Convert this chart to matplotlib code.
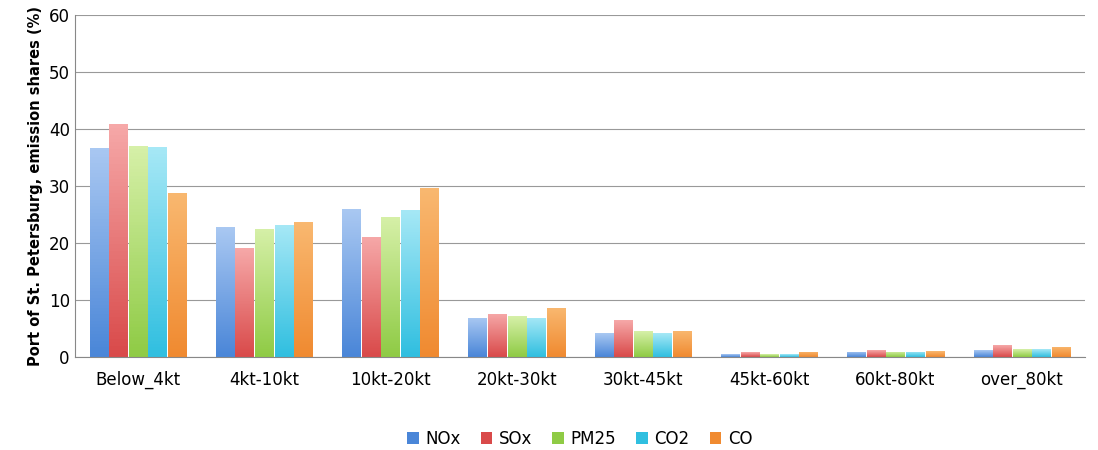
import numpy as np
import matplotlib
matplotlib.use("Agg")
import matplotlib.pyplot as plt
from matplotlib.colors import LinearSegmentedColormap

categories = ["Below_4kt", "4kt-10kt", "10kt-20kt", "20kt-30kt", "30kt-45kt",
              "45kt-60kt", "60kt-80kt", "over_80kt"]
nox = [36.7, 22.7, 25.9, 6.9, 4.1, 0.5, 0.9, 1.2]
sox = [40.8, 19.1, 21.1, 7.6, 6.4, 0.8, 1.2, 2.0]
pm25 = [37.0, 22.5, 24.6, 7.1, 4.5, 0.5, 0.9, 1.4]
co2 = [36.8, 23.2, 25.8, 6.9, 4.2, 0.5, 0.9, 1.3]
co = [28.8, 23.6, 29.6, 8.6, 4.6, 0.9, 1.0, 1.8]

series = [("NOx", nox, "#4a86d8", "#a9c8f2"),
          ("SOx", sox, "#d94a4a", "#f6a8a8"),
          ("PM25", pm25, "#8fcb45", "#d6f0a8"),
          ("CO2", co2, "#30bfe0", "#a6e8f6"),
          ("CO", co, "#f08a30", "#f9b870")]

fig, ax = plt.subplots(figsize=(10.98, 4.5), dpi=100)
fig.subplots_adjust(left=0.068, right=0.988, top=0.967, bottom=0.207)

x = np.arange(len(categories))
w = 0.155
for i, (name, vals, dark, light) in enumerate(series):
    bars = ax.bar(x + (i - 2) * w, vals, w * 0.92, color=dark, label=name, zorder=2)
    cmap = LinearSegmentedColormap.from_list(name, [dark, light])
    for b in bars:
        x0, y0 = b.get_x(), b.get_y()
        img = ax.imshow(np.linspace(0, 1, 64).reshape(-1, 1), cmap=cmap, origin="lower",
                        extent=[x0, x0 + b.get_width(), y0, y0 + b.get_height()],
                        aspect="auto", zorder=2.5)
        img.set_clip_path(b)

ax.set_xlim(-0.5, len(categories) - 0.5)
ax.set_ylim(0, 60)
ax.set_yticks(range(0, 61, 10))
ax.set_xticks(x)
ax.set_xticklabels(categories, fontsize=12)
ax.tick_params(axis="y", labelsize=12, length=0)
ax.tick_params(axis="x", length=0, pad=10)
ax.grid(axis="y", color="#999999", linewidth=0.8, zorder=0)
for s in ["top", "right"]:
    ax.spines[s].set_visible(False)
ax.spines["left"].set_color("#888888")
ax.spines["bottom"].set_color("#888888")
ax.set_ylabel("Port of St. Petersburg, emission shares (%)", fontsize=10.5, fontweight="bold")

ax.legend(loc="upper center", bbox_to_anchor=(0.5, -0.17), ncol=5, frameon=False,
          fontsize=12, handlelength=0.7, handleheight=0.7, columnspacing=1.2, handletextpad=0.4)

plt.savefig("out.png", dpi=100)
